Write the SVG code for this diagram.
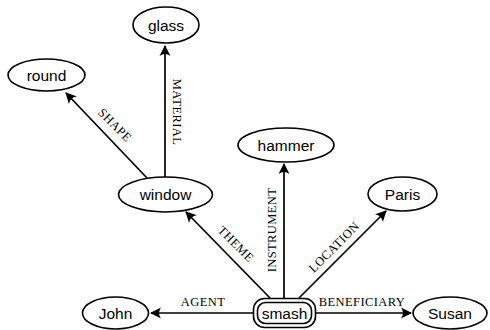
<svg xmlns="http://www.w3.org/2000/svg" width="490" height="330" viewBox="0 0 490 330">
<style>
.n{fill:#fff;stroke:#000;stroke-width:1.6}
.t{font-family:"Liberation Sans",Arial,sans-serif;font-size:15.5px;text-anchor:middle;dominant-baseline:central}
.e{stroke:#000;stroke-width:1.7;fill:none;marker-end:url(#a)}
.l{font-family:"Liberation Serif","Times New Roman",serif;font-size:12.5px;text-anchor:middle;letter-spacing:0.4px}
</style>
<defs>
<marker id="a" viewBox="-12 -7 14 14" markerWidth="14" markerHeight="14" refX="0" refY="0" orient="auto" markerUnits="userSpaceOnUse">
<path d="M1,0 L-10,-5.5 Q-6,0 -10,5.5 Z" fill="#000"/>
</marker>
</defs>
<g id="connectors">
<line class="e" x1="253" y1="313" x2="151" y2="313"/>
<line class="e" x1="316" y1="313" x2="411" y2="313"/>
<line class="e" x1="284" y1="298" x2="284" y2="164"/>
<line class="e" x1="270" y1="298" x2="186" y2="212"/>
<line class="e" x1="299" y1="298" x2="386" y2="211"/>
<line class="e" x1="147" y1="178" x2="66" y2="93"/>
<line class="e" x1="165" y1="177" x2="165" y2="46"/>
<text class="l" x="203" y="306">AGENT</text>
<text class="l" x="362" y="306">BENEFICIARY</text>
<text class="l" transform="translate(276,230) rotate(-90)">INSTRUMENT</text>
<text class="l" transform="translate(233,247) rotate(45)">THEME</text>
<text class="l" transform="translate(337,250) rotate(-45)">LOCATION</text>
<text class="l" transform="translate(112,128) rotate(45)">SHAPE</text>
<text class="l" transform="translate(173,112) rotate(90)">MATERIAL</text>
</g>
<g id="glass"><ellipse class="n" cx="166" cy="25" rx="33" ry="18"/><text class="t" x="166" y="25">glass</text></g>
<g id="round"><ellipse class="n" cx="46.5" cy="75" rx="38.5" ry="16"/><text class="t" x="46.5" y="75">round</text></g>
<g id="window"><ellipse class="n" cx="165.5" cy="194.5" rx="47" ry="17.5"/><text class="t" x="165.5" y="194.5">window</text></g>
<g id="hammer"><ellipse class="n" cx="286" cy="145" rx="48" ry="17"/><text class="t" x="286" y="145">hammer</text></g>
<g id="Paris"><ellipse class="n" cx="402.5" cy="194" rx="34.5" ry="17"/><text class="t" x="402.5" y="194">Paris</text></g>
<g id="John"><ellipse class="n" cx="115.5" cy="313" rx="33" ry="16"/><text class="t" x="115.5" y="313">John</text></g>
<g id="Susan"><ellipse class="n" cx="450" cy="313" rx="37" ry="16"/><text class="t" x="450" y="313">Susan</text></g>
<g id="smash">
<rect class="n" x="253.5" y="298.5" width="62" height="29" rx="11"/>
<rect class="n" x="257.5" y="302.5" width="54" height="21" rx="8" stroke-width="1.3"/>
<text class="t" x="284.5" y="313">smash</text>
</g>
</svg>
